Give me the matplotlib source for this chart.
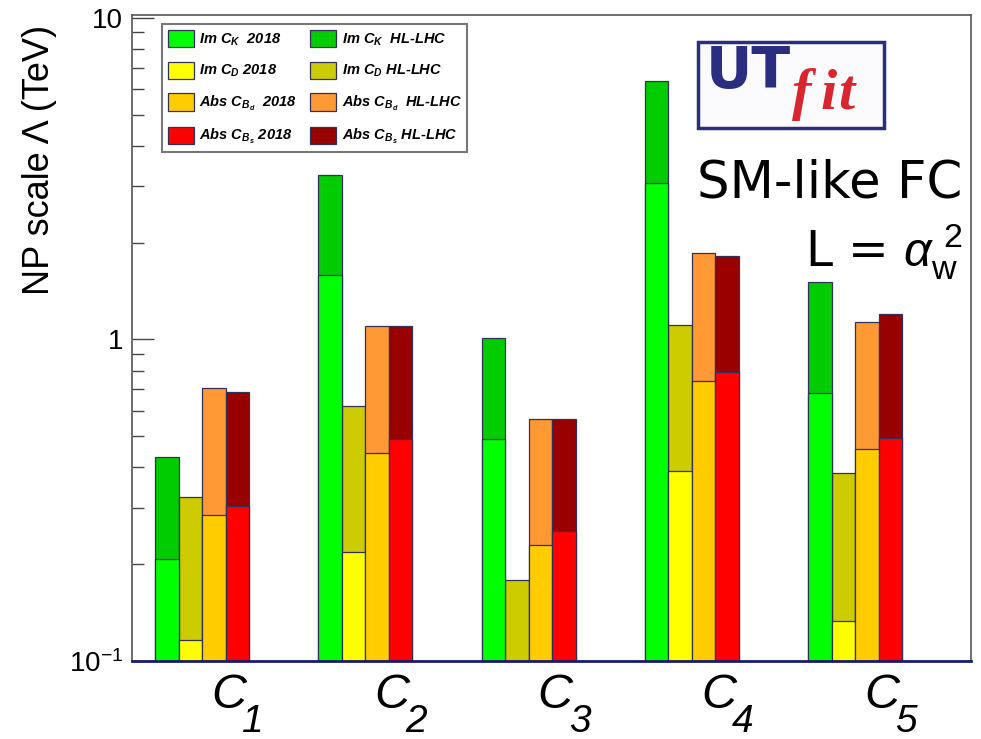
import matplotlib
matplotlib.use("Agg")
import matplotlib.pyplot as plt
from matplotlib.patches import Rectangle, Patch

# ---------------- data ----------------
categories = ["1", "2", "3", "4", "5"]
imck_2018 = [0.207, 1.585, 0.491, 3.06, 0.679]
imck_hl = [0.430, 3.25, 1.01, 6.37, 1.51]
imcd_2018 = [0.116, 0.218, 0.08, 0.391, 0.133]
imcd_hl = [0.323, 0.622, 0.179, 1.108, 0.383]
bd_2018 = [0.284, 0.444, 0.230, 0.741, 0.455]
bd_hl = [0.708, 1.10, 0.566, 1.855, 1.136]
bs_2018 = [0.303, 0.491, 0.253, 0.794, 0.492]
bs_hl = [0.688, 1.10, 0.566, 1.82, 1.20]

labels_2018 = [r"Im $\mathbfit{C_{K}}$  2018", r"Im $\mathbfit{C_{D}}$ 2018",
               r"Abs $\mathbfit{C_{B_{d}}}$  2018", r"Abs $\mathbfit{C_{B_{s}}}$ 2018"]
labels_hl = [r"Im $\mathbfit{C_{K}}$  HL-LHC", r"Im $\mathbfit{C_{D}}$ HL-LHC",
             r"Abs $\mathbfit{C_{B_{d}}}$  HL-LHC", r"Abs $\mathbfit{C_{B_{s}}}$ HL-LHC"]
colors_2018 = ["#00FF00", "#FFFF00", "#FFCC00", "#FF0000"]
colors_hl = ["#00CC00", "#CCCC00", "#FF9933", "#990000"]

ytick_values = [0.1, 1, 10]
ytick_labels = [r"$10^{-1}$", "1", "10"]

# ---------------- style ----------------
plt.rcParams["font.family"] = ["Liberation Sans", "DejaVu Sans"]
plt.rcParams["mathtext.fontset"] = "custom"
plt.rcParams["mathtext.rm"] = "Liberation Sans"
plt.rcParams["mathtext.it"] = "Liberation Sans:italic"
plt.rcParams["mathtext.bf"] = "Liberation Sans:bold"
plt.rcParams["mathtext.bfit"] = "Liberation Sans:bold:italic"

W, H = 981, 739
fig = plt.figure(figsize=(W / 100, H / 100), dpi=100)

def fx(px):
    return px / W

def fy(py):
    return 1 - py / H

ax_l, ax_r, ax_t, ax_b = 132, 971, 15, 661
ax = fig.add_axes([fx(ax_l), fy(ax_b), fx(ax_r) - fx(ax_l), fy(ax_t) - fy(ax_b)])

ax.set_yscale("log")
ax.set_ylim(0.1, 10.2)
ax.set_xlim(0, 5.138)

offset = 0.141
w = 0.144
base = 1e-3
series_2018 = [imck_2018, imcd_2018, bd_2018, bs_2018]
series_hl = [imck_hl, imcd_hl, bd_hl, bs_hl]
edge = "#30305a"

for k in range(4):
    xs = [offset + i + k * w for i in range(len(categories))]
    ax.bar(xs, [v - base for v in series_hl[k]], bottom=base, width=w, align="edge",
           color=colors_hl[k], edgecolor=edge, linewidth=0.9, zorder=2)
    ax.bar(xs, [v - base for v in series_2018[k]], bottom=base, width=w, align="edge",
           color=colors_2018[k], edgecolor=edge, linewidth=0.9, zorder=3)

# x category labels: italic C with a large, low italic subscript
ax.set_xticks([])
for i, cat in enumerate(categories):
    xc = offset + i + 2 * w
    ax.annotate("C", xy=(xc, 0), xycoords=("data", "axes fraction"),
                xytext=(9, -47), textcoords="offset pixels", ha="left",
                va="baseline", fontsize=35, fontstyle="italic", annotation_clip=False)
    ax.annotate(cat, xy=(xc, 0), xycoords=("data", "axes fraction"),
                xytext=(40, -71), textcoords="offset pixels", ha="left",
                va="baseline", fontsize=28, fontstyle="italic", annotation_clip=False)

ax.set_yticks(ytick_values)
ax.set_yticklabels(ytick_labels, fontsize=20)
ax.tick_params(axis="y", which="major", direction="in", length=16, width=1.0,
               color="#444444", pad=6.5, right=False)
ax.tick_params(axis="y", which="minor", direction="in", length=8.5, width=1.0,
               color="#444444", right=False)
ax.yaxis.set_minor_formatter(plt.NullFormatter())

for s in ["left", "top", "right"]:
    ax.spines[s].set_color("#555555")
    ax.spines[s].set_linewidth(1.2)
ax.spines["bottom"].set_color("#1a1a70")
ax.spines["bottom"].set_linewidth(2.0)
ax.spines["bottom"].set_zorder(5)

fig.text(fx(40), fy(160), "NP scale \u039b (TeV)", rotation=90, ha="center",
         va="center", fontsize=26)

# legend
handles = [Patch(facecolor=c, edgecolor=edge, linewidth=0.9) for c in colors_2018 + colors_hl]
leg = fig.legend(handles, labels_2018 + labels_hl, ncol=2, loc="upper left",
                 bbox_to_anchor=(fx(162), fy(24)), frameon=True, fancybox=False,
                 prop={"weight": "bold", "style": "italic", "size": 10.5},
                 handlelength=1.8, handleheight=1.45, labelspacing=0.95,
                 handletextpad=0.35, columnspacing=0.9, borderpad=0.4,
                 borderaxespad=0)
leg.get_frame().set_edgecolor("#555555")
leg.get_frame().set_linewidth(1.5)

# logo
fig.patches.append(Rectangle((fx(698), fy(128)), fx(884) - fx(698), fy(42) - fy(128),
                             transform=fig.transFigure, facecolor="#fbfbfd",
                             edgecolor="#2b2e80", linewidth=2.5, zorder=5))
fig.text(fx(706), fy(88), "UT", fontsize=41, fontweight="bold", color="#2b2e80",
         family="DejaVu Sans", ha="left", va="baseline", zorder=6)
for ch, px in zip("fit", [792, 821, 838]):
    fig.text(fx(px), fy(109), ch, fontsize=42, fontstyle="italic", fontweight="bold",
             color="#d9262e", family="Liberation Serif", ha="left", va="baseline",
             zorder=6)

# annotation texts
fig.text(fx(962), fy(197), "SM-like FC", fontsize=37, family="DejaVu Sans",
         ha="right", va="baseline")
fig.text(fx(962), fy(266), r"L = $\alpha_{\mathrm{w}}^{\ 2}$", fontsize=35,
         family="DejaVu Sans", ha="right", va="baseline")

fig.savefig("out.png", dpi=100)
